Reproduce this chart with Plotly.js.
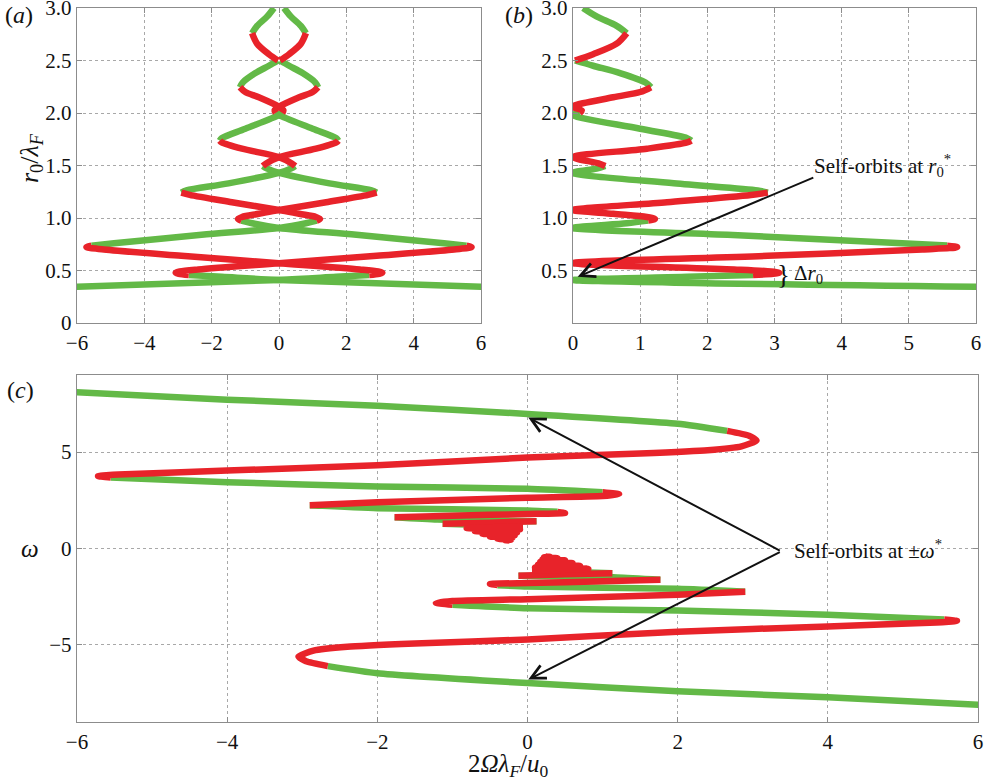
<!DOCTYPE html>
<html>
<head>
<meta charset="utf-8">
<script src="https://cdn.plot.ly/plotly-3.0.1.min.js"></script>
<style>html,body{margin:0;padding:0;background:#fff;}#chart{width:987px;height:783px;}</style>
</head>
<body>
<div id="chart"></div>
<script>
// ---- Panels (a),(b): one branch of 2*Omega*lambda_F/u0 versus r0/lambda_F ----
const r0 = [0.344,0.41,0.44,0.457,0.468,0.478,0.49,0.51,0.57,0.64,0.70,0.722,0.737,0.76,0.84,0.905,0.95,0.975,0.99,1.01,1.04,1.076,1.15,1.22,1.242,1.262,1.33,1.43,1.47,1.495,1.52,1.58,1.66,1.72,1.737,1.76,1.85,1.98,2.0,2.025,2.06,2.15,2.2,2.245,2.29,2.38,2.45,2.5,2.56,2.66,2.76,2.83,2.92,3.0];
const omegaR = [-6.05,0,1.7,2.68,2.98,3.07,2.95,2.4,0,-2.9,-5.2,-5.72,-5.57,-4.9,-2.3,0,0.8,1.12,1.22,1.1,0.6,0,-1.4,-2.65,-2.9,-2.75,-1.5,0,0.35,0.48,0.38,0,-1.1,-1.7,-1.76,-1.7,-1.0,0,0.1,0.13,0,-0.6,-1.0,-1.16,-1.08,-0.7,-0.3,-0.03,-0.3,-0.65,-0.8,-0.65,-0.35,-0.15];
// stability: S = stable (green), U = unstable (red)
const stabilityR = "SSSSUUUUUUUUUSSSSSUUUUUUUSSSSSUUUUUSSSSUUUUUSSSSUUUSSS".split("");

// ---- Panel (c): upper branch, 2*Omega*lambda_F/u0 versus omega ----
const omegaC = [-6.05,-4,-2,0,2,2.66,2.95,3.05,2.85,2.4,1.5,0,-2,-4,-5.45,-5.72,-5.55,-4,-2,0,1.0,1.22,1.0,0,-2,-2.9,-2,0,0.4,0.5,0,-1,-1.77,-1.2,0.12,-0.5,-1.13,-0.6,-0.06,-0.45,-0.81,-0.1,-0.7,-0.14,-0.6,-0.17,-0.5,-0.2,-0.4,-0.22,-0.3,-0.24];
const wC = [8.12,7.72,7.4,6.98,6.47,6.1,5.85,5.6,5.3,5.1,4.93,4.72,4.32,4.04,3.84,3.76,3.68,3.44,3.21,3.1,2.92,2.82,2.72,2.63,2.4,2.24,2.09,1.97,1.9,1.84,1.79,1.7,1.62,1.5,1.42,1.34,1.28,1.22,1.16,1.1,1.05,0.98,0.9,0.83,0.76,0.69,0.62,0.56,0.5,0.46,0.43,0.41];
const stabilityC = "SSSSSSUUUUUUUUUUUSSSSUUUUUSSSUUUUSSUUSSUUUUUUUUUUUUU".split("");

const abTicksY = [0,0.5,1.0,1.5,2.0,2.5,3.0];
const abTickTextY = ["0","0.5","1.0","1.5","2.0","2.5","3.0"];
const bTicksY = [0.5,1.0,1.5,2.0,2.5,3.0];
const bTickTextY = ["0.5","1.0","1.5","2.0","2.5","3.0"];
const aTicksX = [-6,-4,-2,0,2,4,6];
const bTicksX = [0,1,2,3,4,5,6];
const cTicksY = [-5,0,5];

const GREEN = '#63b947', RED = '#e8232a';

function runs(xs, ys, st) {
  const out = [];
  let cur = {s: st[0], x: [xs[0]], y: [ys[0]]};
  for (let i = 1; i < xs.length; i++) {
    if (st[i] === cur.s) { cur.x.push(xs[i]); cur.y.push(ys[i]); }
    else {
      out.push(cur);
      cur = {s: st[i], x: [xs[i-1], xs[i]], y: [ys[i-1], ys[i]]};
    }
  }
  out.push(cur);
  return out;
}

const curves = [
  {x: omegaR, y: r0, st: stabilityR, xa: 'x', ya: 'y', w: 6.5, sm: 0.9},
  {x: omegaR.map(v => -v), y: r0, st: stabilityR, xa: 'x', ya: 'y', w: 6.5, sm: 0.9},
  {x: omegaR.map(v => Math.abs(v)), y: r0, st: stabilityR, xa: 'x2', ya: 'y2', w: 6.5, sm: 0.9},
  {x: omegaC, y: wC, st: stabilityC, xa: 'x3', ya: 'y3', w: 6.5, sm: 0.5},
  {x: omegaC.map(v => -v), y: wC.map(v => -v), st: stabilityC, xa: 'x3', ya: 'y3', w: 6.5, sm: 0.5}
];

const greens = [], reds = [];
curves.forEach(c => {
  runs(c.x, c.y, c.st).forEach(r => {
    const tr = {type: 'scatter', mode: 'lines', x: r.x, y: r.y, xaxis: c.xa, yaxis: c.ya,
      hoverinfo: 'skip', showlegend: false,
      line: {color: r.s === 'S' ? GREEN : RED, width: c.w, shape: 'spline', smoothing: c.sm}};
    (r.s === 'S' ? greens : reds).push(tr);
  });
});
const data = greens.concat(reds);

const FONT = '"Liberation Serif", "Times New Roman", Times, serif';
function axis(domain, range, tickvals, ticktext, anchor) {
  return {domain: domain, range: range, anchor: anchor, tickmode: 'array', tickvals: tickvals, ticktext: ticktext,
    showgrid: true, gridcolor: '#a8a8a8', griddash: 'dot', gridwidth: 1,
    zeroline: false, showline: true, linecolor: '#8c8c8c', linewidth: 1.3, mirror: 'ticks',
    ticks: 'inside', ticklen: 5, tickcolor: '#8c8c8c', tickwidth: 1, ticklabeloverflow: 'allow',
    tickfont: {family: FONT, size: 21, color: '#111', style: 'normal', weight: 'normal'}, fixedrange: true};
}
const W = 987, H = 783;
const px = v => v / W, py = v => 1 - v / H;
const mk = v => v < 0 ? '\u2212' + (-v) : String(v);

function label(x, y, text, size, extra) {
  return Object.assign({xref: 'paper', yref: 'paper', x: px(x), y: py(y), xanchor: 'center', yanchor: 'middle',
    text: text, showarrow: false, font: {family: FONT, size: size, color: '#111'}}, extra || {});
}

const layout = {
  width: W, height: H, autosize: false,
  font: {family: FONT, size: 21, color: '#111'},
  margin: {l: 0, r: 0, t: 0, b: 0, pad: 0},
  paper_bgcolor: '#fff', plot_bgcolor: '#fff',
  xaxis: axis([px(77), px(481)], [-6, 6], aTicksX, aTicksX.map(mk), 'y'),
  yaxis: axis([py(323), py(8)], [0, 3], abTicksY, abTickTextY, 'x'),
  xaxis2: axis([px(573), px(976)], [0, 6], bTicksX, bTicksX.map(String), 'y2'),
  yaxis2: axis([py(323), py(8)], [0, 3], bTicksY, bTickTextY, 'x2'),
  xaxis3: axis([px(77), px(978)], [-6, 6], aTicksX, aTicksX.map(mk), 'y3'),
  yaxis3: axis([py(722), py(375)], [-9, 9], cTicksY, cTicksY.map(mk), 'x3'),
  annotations: [
    label(19, 15, '(<i>a</i>)', 24),
    label(519, 15, '(<i>b</i>)', 24),
    label(20, 390, '(<i>c</i>)', 24),
    label(31, 158, '<i>r</i><sub>0</sub>/<i>λ<sub>F</sub></i>', 26, {textangle: -90}),
    label(30, 548, '<i>ω</i>', 25),
    label(508, 765, '2<i>Ωλ<sub>F</sub></i>/<i>u</i><sub>0</sub>', 25),
    label(812, 166, 'Self-orbits at <i>r</i><sub>0</sub><sup>*</sup>', 21, {xanchor: 'left'}),
    label(783, 275, '}', 27),
    label(792, 274, 'Δ<i>r</i><sub>0</sub>', 21, {xanchor: 'left'}),
    label(792, 549, 'Self-orbits at ±<i>ω</i><sup>*</sup>', 21, {xanchor: 'left'}),
    {xref: 'x2', yref: 'y2', x: 0.07, y: 0.44, axref: 'x2', ayref: 'y2', ax: 3.6, ay: 1.39, text: '', showarrow: true, arrowhead: 5, arrowsize: 1.4, arrowwidth: 2, arrowcolor: '#111', standoff: 0},
    {xref: 'x3', yref: 'y3', x: 0.01, y: 6.8, axref: 'x3', ayref: 'y3', ax: 3.38, ay: -0.15, text: '', showarrow: true, arrowhead: 5, arrowsize: 1.4, arrowwidth: 2, arrowcolor: '#111', standoff: 0},
    {xref: 'x3', yref: 'y3', x: 0.01, y: -6.8, axref: 'x3', ayref: 'y3', ax: 3.38, ay: -0.15, text: '', showarrow: true, arrowhead: 5, arrowsize: 1.4, arrowwidth: 2, arrowcolor: '#111', standoff: 0}
  ]
};

Plotly.newPlot('chart', data, layout, {displayModeBar: false, staticPlot: true});
</script>
</body>
</html>
